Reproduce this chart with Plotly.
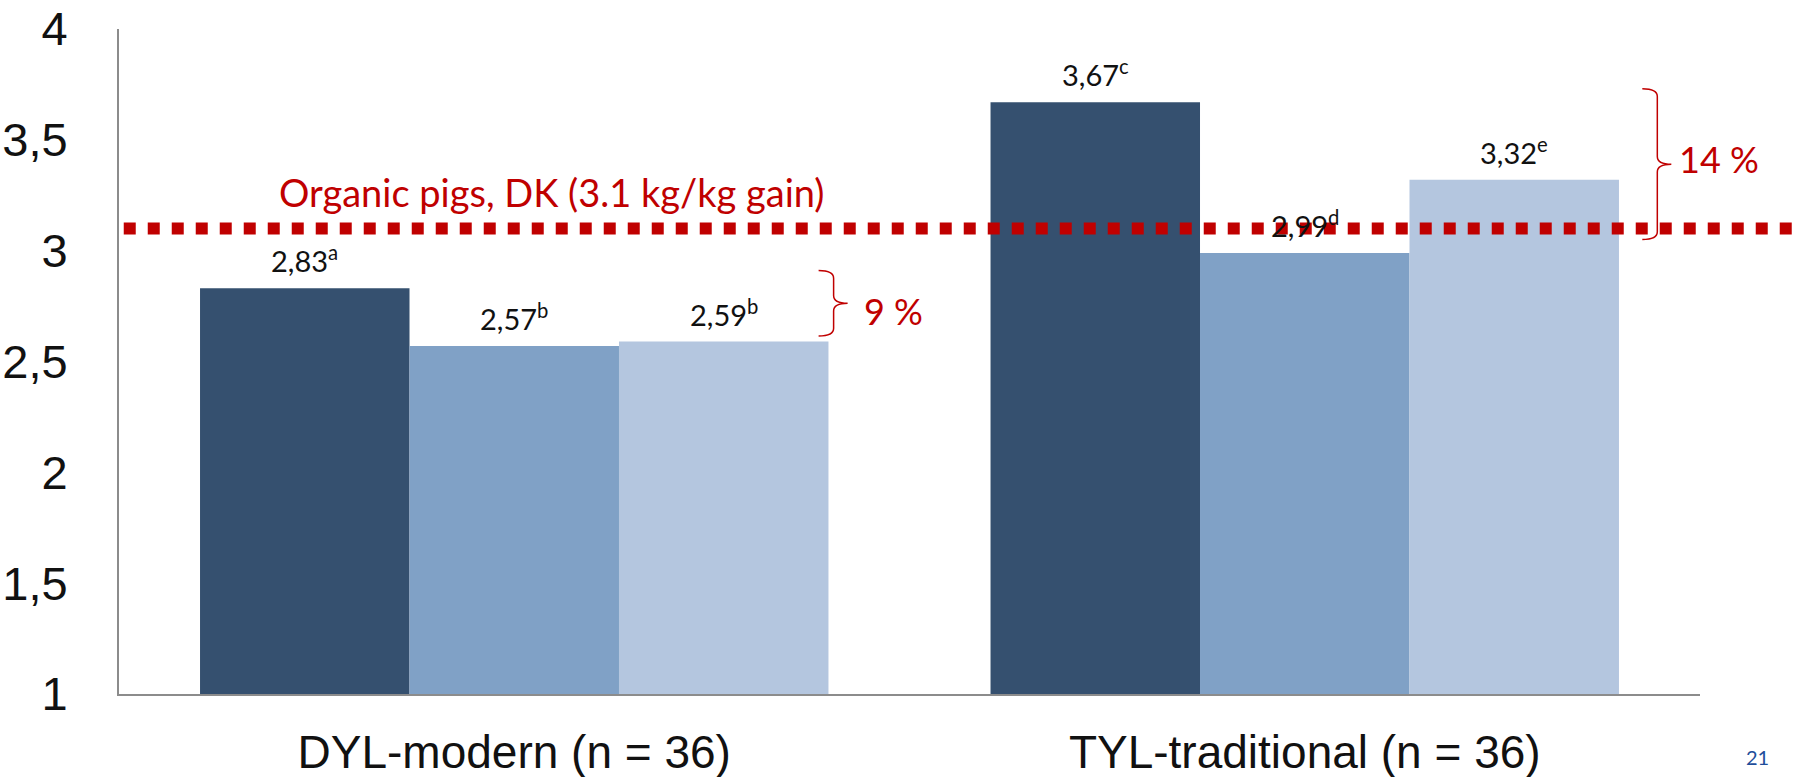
import plotly.graph_objects as go

# Feed conversion (kg feed / kg gain) per line and feeding strategy
categories = ["DYL-modern (n = 36)", "TYL-traditional (n = 36)"]
series_names = ["Strategy 1", "Strategy 2", "Strategy 3"]
series_values = [
    [2.83, 3.67],
    [2.57, 2.99],
    [2.59, 3.32],
]
series_letters = [
    ["a", "c"],
    ["b", "d"],
    ["b", "e"],
]
series_colors = ["#35506f", "#80a1c6", "#b4c6df"]

reference_value = 3.1
reference_label = "Organic pigs, DK (3.1 kg/kg gain)"

# Differences between the extreme bars of each group
spans = [
    {"top": 2.91, "bottom": 2.615, "label": "9 %", "x": 0.452, "dx": 28, "dy": -8},
    {"top": 3.73, "bottom": 3.05, "label": "14 %", "x": 0.973, "dx": 20, "dy": 5},
]

y_ticks = [1, 1.5, 2, 2.5, 3, 3.5, 4]
page_number = "21"

BARGAP = 0.205
RED = "#c00000"
LABEL_FONT = "Lato, Liberation Sans, sans-serif"
AXIS_FONT = "Liberation Sans, Arial, sans-serif"

W, H = 1800, 777
M_L, M_R, M_T, M_B = 119, 100, 29, 83
plot_w = W - M_L - M_R
plot_h = H - M_T - M_B

fig = go.Figure()
for name, vals, col in zip(series_names, series_values, series_colors):
    fig.add_trace(go.Bar(
        x=categories, y=vals, name=name,
        marker=dict(color=col, line=dict(width=0)),
        showlegend=False,
    ))

annotations = []
n_series = len(series_values)
bar_w = (1 - BARGAP) / n_series
for si, (vals, letters) in enumerate(zip(series_values, series_letters)):
    for ci, (v, letter) in enumerate(zip(vals, letters)):
        txt = f"{v:.2f}".replace(".", ",") + f"<sup>{letter}</sup>"
        annotations.append(dict(
            x=ci + (si - (n_series - 1) / 2) * bar_w, y=v, xref="x", yref="y",
            text=txt, showarrow=False, yanchor="bottom", yshift=8,
            font=dict(family=LABEL_FONT, size=29, color="#111111"),
        ))

# Reference line label
annotations.append(dict(
    x=(551 - M_L) / plot_w, y=reference_value, xref="paper", yref="y",
    text=reference_label, showarrow=False,
    xanchor="center", yanchor="bottom", yshift=11,
    font=dict(family=LABEL_FONT, size=38, color=RED),
))

shapes = [dict(
    type="line", xref="paper", yref="y",
    x0=0.003, x1=1.07, y0=reference_value, y1=reference_value,
    line=dict(color=RED, width=12, dash="12px,12px"),
    layer="above",
)]

# Curly braces with percentage labels
for sp in spans:
    t, b = sp["top"], sp["bottom"]
    m = (t + b) / 2
    d = 0.035
    path = (
        f"M -15,{t} Q 0,{t} 0,{t - d} "
        f"L 0,{m + d} Q 0,{m} 14,{m} Q 0,{m} 0,{m - d} "
        f"L 0,{b + d} Q 0,{b} -15,{b}"
    )
    shapes.append(dict(
        type="path", xref="paper", yref="y", xsizemode="pixel",
        xanchor=sp["x"], path=path,
        line=dict(color=RED, width=1.5), layer="above",
    ))
    annotations.append(dict(
        x=sp["x"], y=m, xref="paper", yref="y", text=sp["label"],
        showarrow=False, xanchor="left", yanchor="middle",
        xshift=sp["dx"], yshift=sp["dy"],
        font=dict(family=LABEL_FONT, size=36, color=RED),
    ))

# Page number
annotations.append(dict(
    x=(1757 - M_L) / plot_w, y=(H - M_B - 757) / plot_h,
    xref="paper", yref="paper", text=page_number, showarrow=False,
    xanchor="center", yanchor="middle",
    font=dict(family=LABEL_FONT, size=20, color="#1f4e9a"),
))

fig.update_layout(
    width=W, height=H,
    margin=dict(l=M_L, r=M_R, t=M_T, b=M_B, autoexpand=False),
    paper_bgcolor="white", plot_bgcolor="white",
    barmode="group", bargap=BARGAP, bargroupgap=0,
    separators=",.",
    shapes=shapes,
    annotations=annotations,
)

fig.update_yaxes(
    range=[1, 4], tickvals=y_ticks, tickformat=",.1~f",
    showgrid=False, zeroline=False,
    showline=True, linecolor="#8c8c8c", linewidth=2,
    ticks="", ticklabelstandoff=40,
    tickfont=dict(family=AXIS_FONT, size=47, color="#111111"),
    automargin=False,
)
fig.update_xaxes(
    showgrid=False, showline=True, linecolor="#8c8c8c", linewidth=2,
    ticks="", ticklabelstandoff=17,
    tickfont=dict(family=AXIS_FONT, size=46, color="#111111"),
    automargin=False,
)

fig.write_html("out.html")
